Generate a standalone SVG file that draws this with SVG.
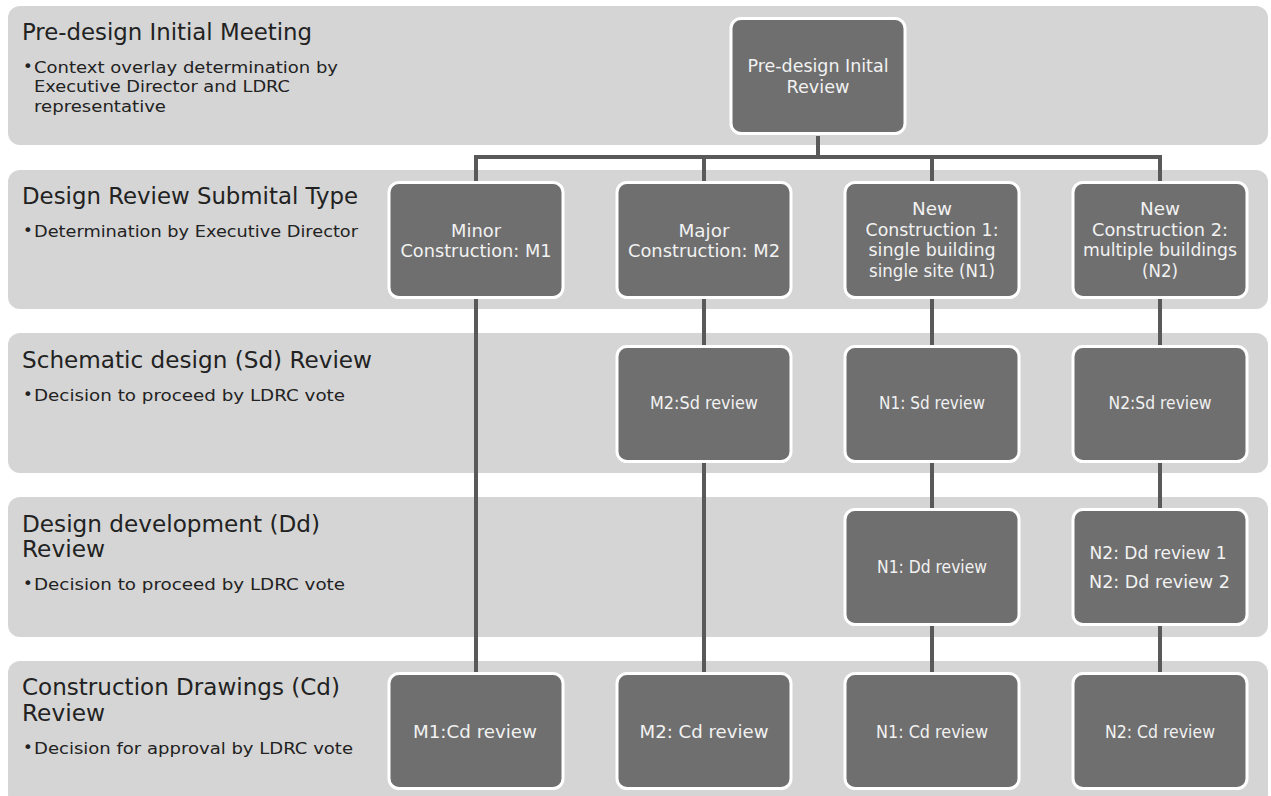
<svg xmlns="http://www.w3.org/2000/svg" width="1271" height="796" viewBox="0 0 1271 796">
<style>
.band{fill:#d5d5d5}
.node{fill:#6f6f6f;stroke:#ffffff;stroke-width:3}
.conn{stroke:#595959;stroke-width:4;fill:none}
.h{font-family:"DejaVu Sans","Liberation Sans",sans-serif;font-size:22.5px;fill:#222222}
.b{font-family:"DejaVu Sans","Liberation Sans",sans-serif;font-size:16.5px;fill:#222222}
.t{font-family:"DejaVu Sans","Liberation Sans",sans-serif;font-size:17.5px;fill:#f2f2f2;text-anchor:middle}
</style>
<rect width="1271" height="796" fill="#ffffff"/>
<g id="band1"><rect class="band" x="8" y="6" width="1260" height="139" rx="12"/>
<text class="h" x="22" y="40" textLength="290" lengthAdjust="spacingAndGlyphs">Pre-design Initial Meeting</text>
<text class="b" x="23" y="72">•</text>
<text class="b" x="34" y="72.5" textLength="304" lengthAdjust="spacingAndGlyphs">Context overlay determination by</text>
<text class="b" x="34" y="92" textLength="256" lengthAdjust="spacingAndGlyphs">Executive Director and LDRC</text>
<text class="b" x="34" y="111.5" textLength="132" lengthAdjust="spacingAndGlyphs">representative</text></g>
<g id="band2"><rect class="band" x="8" y="170" width="1260" height="139" rx="12"/>
<text class="h" x="22" y="204" textLength="336" lengthAdjust="spacingAndGlyphs">Design Review Submital Type</text>
<text class="b" x="23" y="236">•</text>
<text class="b" x="34" y="236.5" textLength="324" lengthAdjust="spacingAndGlyphs">Determination by Executive Director</text></g>
<g id="band3"><rect class="band" x="8" y="333" width="1260" height="140" rx="12"/>
<text class="h" x="22" y="368" textLength="350" lengthAdjust="spacingAndGlyphs">Schematic design (Sd) Review</text>
<text class="b" x="23" y="400">•</text>
<text class="b" x="34" y="400.5" textLength="311" lengthAdjust="spacingAndGlyphs">Decision to proceed by LDRC vote</text></g>
<g id="band4"><rect class="band" x="8" y="497" width="1260" height="140" rx="12"/>
<text class="h" x="22" y="532" textLength="298" lengthAdjust="spacingAndGlyphs">Design development (Dd)</text>
<text class="h" x="22" y="557" textLength="83" lengthAdjust="spacingAndGlyphs">Review</text>
<text class="b" x="23" y="589">•</text>
<text class="b" x="34" y="589.5" textLength="311" lengthAdjust="spacingAndGlyphs">Decision to proceed by LDRC vote</text></g>
<g id="band5"><rect class="band" x="8" y="661" width="1260" height="145" rx="12"/>
<text class="h" x="22" y="695" textLength="318" lengthAdjust="spacingAndGlyphs">Construction Drawings (Cd)</text>
<text class="h" x="22" y="721" textLength="83" lengthAdjust="spacingAndGlyphs">Review</text>
<text class="b" x="23" y="753">•</text>
<text class="b" x="34" y="753.5" textLength="319" lengthAdjust="spacingAndGlyphs">Decision for approval by LDRC vote</text></g>
<g id="connectors">
<path class="conn" d="M818 136V157M476 157H1160M476 155V181M704 155V181M932 155V181M1160 155V181"/>
<path class="conn" d="M476 299V672"/>
<path class="conn" d="M704 299V345M704 463V672"/>
<path class="conn" d="M932 299V345M932 463V508M932 626V672"/>
<path class="conn" d="M1160 299V345M1160 463V508M1160 626V672"/>
</g>
<g id="n-top"><rect class="node" x="731" y="18.5" width="174" height="115" rx="10"/>
<text class="t" x="818" y="72" textLength="141" lengthAdjust="spacingAndGlyphs">Pre-design Inital</text>
<text class="t" x="818" y="93" textLength="63" lengthAdjust="spacingAndGlyphs">Review</text></g>
<g id="n-m1"><rect class="node" x="389" y="182.5" width="174" height="115" rx="10"/>
<text class="t" x="476" y="237" textLength="50" lengthAdjust="spacingAndGlyphs">Minor</text>
<text class="t" x="476" y="257" textLength="151" lengthAdjust="spacingAndGlyphs">Construction: M1</text></g>
<g id="n-m2"><rect class="node" x="617" y="182.5" width="174" height="115" rx="10"/>
<text class="t" x="704" y="237" textLength="51" lengthAdjust="spacingAndGlyphs">Major</text>
<text class="t" x="704" y="257" textLength="152" lengthAdjust="spacingAndGlyphs">Construction: M2</text></g>
<g id="n-n1"><rect class="node" x="845" y="182.5" width="174" height="115" rx="10"/>
<text class="t" x="932" y="215" textLength="40" lengthAdjust="spacingAndGlyphs">New</text>
<text class="t" x="932" y="236" textLength="133" lengthAdjust="spacingAndGlyphs">Construction 1:</text>
<text class="t" x="932" y="256" textLength="127" lengthAdjust="spacingAndGlyphs">single building</text>
<text class="t" x="932" y="277" textLength="126" lengthAdjust="spacingAndGlyphs">single site (N1)</text></g>
<g id="n-n2"><rect class="node" x="1073" y="182.5" width="174" height="115" rx="10"/>
<text class="t" x="1160" y="215" textLength="40" lengthAdjust="spacingAndGlyphs">New</text>
<text class="t" x="1160" y="236" textLength="136" lengthAdjust="spacingAndGlyphs">Construction 2:</text>
<text class="t" x="1160" y="256" textLength="154" lengthAdjust="spacingAndGlyphs">multiple buildings</text>
<text class="t" x="1160" y="277" textLength="36" lengthAdjust="spacingAndGlyphs">(N2)</text></g>
<g id="n-m2sd"><rect class="node" x="617" y="346.5" width="174" height="115" rx="10"/>
<text class="t" x="704" y="409" textLength="108" lengthAdjust="spacingAndGlyphs">M2:Sd review</text></g>
<g id="n-n1sd"><rect class="node" x="845" y="346.5" width="174" height="115" rx="10"/>
<text class="t" x="932" y="409" textLength="106" lengthAdjust="spacingAndGlyphs">N1: Sd review</text></g>
<g id="n-n2sd"><rect class="node" x="1073" y="346.5" width="174" height="115" rx="10"/>
<text class="t" x="1160" y="409" textLength="103" lengthAdjust="spacingAndGlyphs">N2:Sd review</text></g>
<g id="n-n1dd"><rect class="node" x="845" y="509.5" width="174" height="115" rx="10"/>
<text class="t" x="932" y="573" textLength="110" lengthAdjust="spacingAndGlyphs">N1: Dd review</text></g>
<g id="n-n2dd"><rect class="node" x="1073" y="509.5" width="174" height="115" rx="10"/>
<text class="t" x="1158" y="559" textLength="137" lengthAdjust="spacingAndGlyphs">N2: Dd review 1</text>
<text class="t" x="1159.5" y="588" textLength="141" lengthAdjust="spacingAndGlyphs">N2: Dd review 2</text></g>
<g id="n-m1cd"><rect class="node" x="389" y="673.5" width="174" height="115" rx="10"/>
<text class="t" x="475" y="738" textLength="124" lengthAdjust="spacingAndGlyphs">M1:Cd review</text></g>
<g id="n-m2cd"><rect class="node" x="617" y="673.5" width="174" height="115" rx="10"/>
<text class="t" x="704" y="738" textLength="129" lengthAdjust="spacingAndGlyphs">M2: Cd review</text></g>
<g id="n-n1cd"><rect class="node" x="845" y="673.5" width="174" height="115" rx="10"/>
<text class="t" x="932" y="738" textLength="112" lengthAdjust="spacingAndGlyphs">N1: Cd review</text></g>
<g id="n-n2cd"><rect class="node" x="1073" y="673.5" width="174" height="115" rx="10"/>
<text class="t" x="1160" y="738" textLength="110" lengthAdjust="spacingAndGlyphs">N2: Cd review</text></g>
</svg>
